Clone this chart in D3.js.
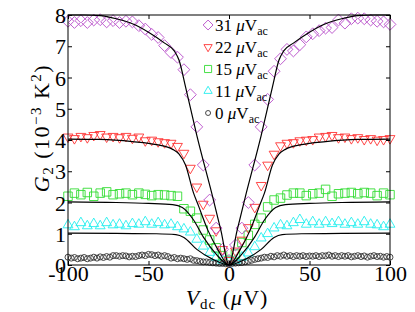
<!DOCTYPE html>
<html>
<head>
<meta charset="utf-8">
<script src="https://cdn.jsdelivr.net/npm/d3@7"></script>
<style>
  body { margin: 0; background: #fff; }
  text { font-family: "Liberation Serif", "DejaVu Serif", serif; fill: #000; }
</style>
</head>
<body>
<div id="chart"></div>
<script>
// sweep bias values (µV)
var vdc4 = [-100,-96,-92,-88,-84,-80,-76,-72,-68,-64,-60,-56,-52,-48,-44,-40,-36,-32,-28,-24,-20,-16,-12,-8,-4,
            0,4,8,12,16,20,24,28,32,36,40,44,48,52,56,60,64,68,72,76,80,84,88,92,96,100];
var vdc2 = [-100,-98,-96,-94,-92,-90,-88,-86,-84,-82,-80,-78,-76,-74,-72,-70,-68,-66,-64,-62,-60,-58,-56,-54,-52,
            -50,-48,-46,-44,-42,-40,-38,-36,-34,-32,-30,-28,-26,-24,-22,-20,-18,-16,-14,-12,-10,-8,-6,-4,-2,
            0,2,4,6,8,10,12,14,16,18,20,22,24,26,28,30,32,34,36,38,40,42,44,46,48,
            50,52,54,56,58,60,62,64,66,68,70,72,74,76,78,80,82,84,86,88,90,92,94,96,98,100];

// measured G2 (10^-3 K^2)
var g31 = [7.8,7.76,7.82,7.76,7.84,7.85,7.78,7.82,7.76,7.8,7.78,7.66,7.55,7.38,7.28,7.02,6.8,6.65,6.25,5.45,4.42,3.2,2.08,1.18,0.5,
           0.15,0.64,1.18,2.0,3.2,4.42,5.3,6.2,6.6,6.9,6.85,7.05,7.3,7.4,7.5,7.58,7.6,7.84,7.74,7.88,7.9,7.88,7.84,7.8,7.78,7.7];
var g22 = [4.1,4.05,4.12,4.08,4.15,4.18,4.1,4.12,4.08,4.12,4.06,4.1,3.98,4.0,3.95,3.92,3.9,3.8,3.58,3.1,2.5,1.95,1.5,1.1,0.5,
           0.15,0.45,0.8,1.2,1.85,2.55,3.2,3.55,3.82,3.9,3.92,3.98,4.0,4.02,4.1,4.12,4.15,4.08,4.1,4.05,4.08,4.02,4.05,4.0,4.02,4.05];
var g15 = [2.2,2.3,2.25,2.32,2.2,2.3,2.34,2.25,2.28,2.3,2.25,2.3,2.26,2.22,2.25,2.24,2.22,2.2,1.8,1.72,1.5,1.12,0.8,0.55,0.3,
           0.15,0.35,0.72,0.95,1.3,1.5,1.86,2.08,2.14,2.24,2.3,2.3,2.22,2.28,2.3,2.42,2.2,2.28,2.3,2.32,2.28,2.32,2.3,2.22,2.3,2.25];
var g11 = [1.28,1.22,1.35,1.25,1.32,1.25,1.35,1.28,1.3,1.25,1.32,1.3,1.38,1.3,1.35,1.28,1.3,1.22,1.15,1.05,0.82,0.6,0.4,0.25,0.15,
           0.1,0.15,0.25,0.38,0.58,0.86,1.0,1.18,1.28,1.25,1.35,1.45,1.3,1.38,1.3,1.38,1.32,1.38,1.3,1.35,1.3,1.38,1.3,1.28,1.22,1.3];
var g0 = [0.25,0.22,0.24,0.2,0.22,0.24,0.2,0.22,0.25,0.22,0.26,0.24,0.27,0.25,0.3,0.3,0.28,0.3,0.29,0.26,0.28,0.27,0.3,0.32,0.3,
          0.34,0.33,0.3,0.32,0.28,0.3,0.27,0.22,0.24,0.2,0.22,0.2,0.18,0.2,0.15,0.14,0.12,0.1,0.1,0.08,0.07,0.06,0.05,0.05,0.04,
          0.04,0.05,0.06,0.07,0.08,0.1,0.12,0.15,0.18,0.2,0.22,0.25,0.24,0.28,0.26,0.3,0.28,0.32,0.28,0.3,0.27,0.3,0.28,0.3,0.27,
          0.29,0.28,0.3,0.27,0.3,0.29,0.32,0.28,0.3,0.27,0.3,0.28,0.3,0.26,0.28,0.3,0.27,0.29,0.25,0.28,0.3,0.27,0.28,0.25,0.27,0.25];

// theory curves, [Vdc, G2]
var fit31 = [[-100,8.0],[-90,8.0],[-80,7.98],[-70,7.88],[-60,7.72],[-50,7.45],[-40,7.1],[-34,6.85],[-31,6.55],[-27,5.7],[-20,4.15],[-10,2.15],[-5,1.1],[0,0],
             [5,1.1],[10,2.15],[20,4.15],[27,5.7],[31,6.55],[34,6.85],[40,7.1],[50,7.45],[60,7.72],[70,7.88],[80,7.98],[90,8.0],[100,8.0]];
var fit22 = [[-100,4.03],[-80,4.02],[-60,3.95],[-45,3.85],[-35,3.7],[-31,3.55],[-27,3.2],[-22,2.3],[-19,1.9],[-13,1.1],[-7,0.5],[0,0],
             [7,0.5],[13,1.1],[19,1.9],[22,2.3],[27,3.2],[31,3.55],[35,3.7],[45,3.85],[60,3.95],[80,4.02],[100,4.03]];
var fit15 = [[-100,2.02],[-70,2.0],[-50,1.97],[-35,1.93],[-29,1.84],[-22,1.44],[-16,0.9],[-8,0.35],[0,0],
             [8,0.35],[16,0.9],[22,1.44],[29,1.84],[35,1.93],[50,1.97],[70,2.0],[100,2.02]];
var fit11 = [[-100,1.02],[-70,1.01],[-45,1.0],[-33,0.97],[-28,0.88],[-20,0.5],[-10,0.18],[0,0],
             [10,0.18],[20,0.5],[28,0.88],[33,0.97],[45,1.0],[70,1.01],[100,1.02]];

var legendLabels = ["31", "22", "15", "11", "0"];
var xTicks = [-100, -50, 0, 50, 100];
var yTicks = [0, 1, 2, 3, 4, 5, 6, 7, 8];

var margin = {top: 15, right: 25, bottom: 47, left: 68},
    width = 415 - margin.left - margin.right,
    height = 312 - margin.top - margin.bottom;

var svg = d3.select("#chart")
  .append("svg")
    .attr("width", 415)
    .attr("height", 312)
  .append("g")
    .attr("transform", "translate(" + margin.left + "," + margin.top + ")");

var x = d3.scaleLinear().domain([-100, 100]).range([0, width]);
var y = d3.scaleLinear().domain([0, 8]).range([height, 0]);

// series styles
var series = [
  {vals: g31, xs: vdc4, color: "#bb55cc", shape: d3.symbolSquare, size: 70, rot: 45},
  {vals: g22, xs: vdc4, color: "#ff3333", shape: d3.symbolTriangle, size: 42, rot: 180},
  {vals: g15, xs: vdc4, color: "#33dd33", shape: d3.symbolSquare, size: 72, rot: 0},
  {vals: g11, xs: vdc4, color: "#22eeee", shape: d3.symbolTriangle, size: 42, rot: 0},
  {vals: g0, xs: vdc2, color: "#333333", shape: d3.symbolCircle, size: 28, rot: 0}
];

var plot = svg.append("g");

series.slice().reverse().forEach(function(s) {
  var sym = d3.symbol().type(s.shape).size(s.size);
  plot.selectAll(null)
      .data(s.vals)
      .enter()
      .append("path")
        .attr("d", sym)
        .attr("transform", function(d, i) {
          return "translate(" + x(s.xs[i]) + "," + y(d) + ") rotate(" + s.rot + ")";
        })
        .attr("fill", "none")
        .attr("stroke", s.color)
        .attr("stroke-width", 0.9);
});

var line = d3.line()
  .x(function(d) { return x(d[0]); })
  .y(function(d) { return y(d[1]); })
  .curve(d3.curveMonotoneX);

[fit31, fit22, fit15, fit11].forEach(function(f) {
  plot.append("path")
    .attr("d", line(f))
    .attr("fill", "none")
    .attr("stroke", "#000")
    .attr("stroke-width", 1.2);
});

// frame + inward ticks
svg.append("rect")
  .attr("width", width).attr("height", height)
  .attr("fill", "none").attr("stroke", "#000").attr("stroke-width", 1);

svg.append("g")
  .attr("transform", "translate(0," + height + ")")
  .call(d3.axisBottom(x).tickValues(xTicks).tickSize(-4).tickPadding(3).tickFormat(function(d) { return String(d); }))
  .call(function(g) {
    g.select(".domain").remove();
    g.selectAll("text").style("font-size", "22px").attr("dy", "0.6em");
  });
svg.append("g")
  .call(d3.axisTop(x).tickValues(xTicks).tickSize(-4).tickFormat(""))
  .call(function(g) { g.select(".domain").remove(); });
svg.append("g")
  .call(d3.axisLeft(y).tickValues(yTicks).tickSize(-4).tickPadding(2))
  .call(function(g) {
    g.select(".domain").remove();
    g.selectAll("text").style("font-size", "22px").attr("dy", "0.35em");
  });
svg.append("g")
  .attr("transform", "translate(" + width + ",0)")
  .call(d3.axisRight(y).tickValues(yTicks).tickSize(-4).tickFormat(""))
  .call(function(g) { g.select(".domain").remove(); });

// axis titles
var xt = svg.append("text")
  .attr("x", x(0) - 2)
  .attr("y", height + 40)
  .attr("text-anchor", "middle")
  .style("font-size", "22px")
  .style("letter-spacing", "1px");
xt.append("tspan").style("font-style", "italic").text("V");
xt.append("tspan").attr("dy", 4).style("font-size", "15px").text("dc");
xt.append("tspan").attr("dy", -4).text(" (");
xt.append("tspan").style("font-style", "italic").text("μ");
xt.append("tspan").text("V)");

var yt = svg.append("text")
  .attr("transform", "translate(-19,113) rotate(-90)")
  .attr("text-anchor", "middle")
  .style("font-size", "22px")
  .style("letter-spacing", "1.5px");
yt.append("tspan").style("font-style", "italic").text("G");
yt.append("tspan").attr("dy", 4).style("font-size", "15px").text("2");
yt.append("tspan").attr("dy", -4).text(" (10");
yt.append("tspan").attr("dy", -8).style("font-size", "15px").text("−3");
yt.append("tspan").attr("dy", 8).text(" K");
yt.append("tspan").attr("dy", -8).style("font-size", "15px").text("2");
yt.append("tspan").attr("dy", 8).text(")");

// legend
var leg = svg.append("g").attr("transform", "translate(" + (x(-13)) + ",10)");
series.forEach(function(s, i) {
  var row = leg.append("g").attr("transform", "translate(0," + (i * 22) + ")");
  row.append("path")
    .attr("d", d3.symbol().type(s.shape).size(s.size * 0.7))
    .attr("transform", "rotate(" + s.rot + ")")
    .attr("fill", "none")
    .attr("stroke", s.color)
    .attr("stroke-width", 0.9);
  var t = row.append("text")
    .attr("x", 7)
    .attr("y", 6)
    .style("font-size", "17px");
  t.append("tspan").text(legendLabels[i] + " ");
  t.append("tspan").style("font-style", "italic").text("μ");
  t.append("tspan").text("V");
  t.append("tspan").attr("dy", 4).style("font-size", "12px").text("ac");
});
</script>
</body>
</html>
